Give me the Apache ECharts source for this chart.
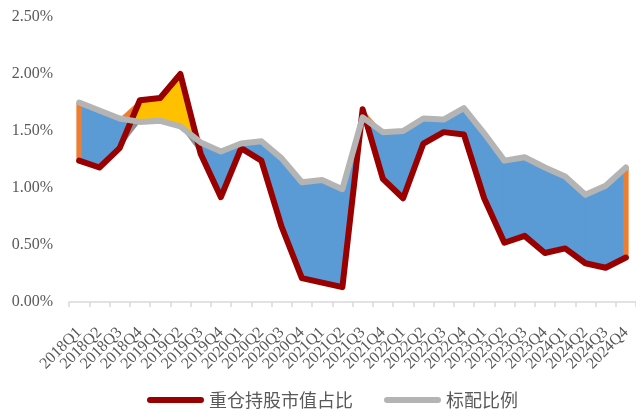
<!DOCTYPE html>
<html>
<head>
<meta charset="utf-8">
<script src="https://cdn.jsdelivr.net/npm/echarts@6/dist/echarts.min.js"></script>
<style>
  html, body { margin: 0; padding: 0; background: #fff; }
  #chart { width: 636px; height: 410px; }
</style>
</head>
<body>
<div id="chart"></div>
<script>
// Quarterly labels
const quarters = [
  '2018Q1','2018Q2','2018Q3','2018Q4',
  '2019Q1','2019Q2','2019Q3','2019Q4',
  '2020Q1','2020Q2','2020Q3','2020Q4',
  '2021Q1','2021Q2','2021Q3','2021Q4',
  '2022Q1','2022Q2','2022Q3','2022Q4',
  '2023Q1','2023Q2','2023Q3','2023Q4',
  '2024Q1','2024Q2','2024Q3','2024Q4'
];

// 重仓持股市值占比 (%)
const heldShare = [
  1.24, 1.18, 1.35, 1.77,
  1.79, 2.00, 1.30, 0.92,
  1.35, 1.24, 0.66, 0.21,
  0.17, 0.13, 1.69, 1.08,
  0.91, 1.39, 1.49, 1.47,
  0.91, 0.52, 0.58, 0.43,
  0.47, 0.34, 0.30, 0.39
];

// 标配比例 (%)
const benchmarkShare = [
  1.75, 1.68, 1.61, 1.58,
  1.59, 1.54, 1.40, 1.32,
  1.39, 1.41, 1.26, 1.05,
  1.07, 0.99, 1.62, 1.49,
  1.50, 1.61, 1.60, 1.70,
  1.48, 1.24, 1.27, 1.18,
  1.10, 0.94, 1.02, 1.18
];

// Y axis tick values (%)
const yTicks = [0, 0.5, 1.0, 1.5, 2.0, 2.5];

const C_BLUE = '#5B9BD5';
const C_ORANGE = '#ED7D31';
const C_YELLOW = '#FFC000';
const C_SHADE = '#8F8F8F';
const C_RED = '#990000';
const C_GREY = '#B4B4B4';
const C_TEXT = '#595959';

// one item per segment between consecutive quarters
const segments = heldShare.slice(0, -1).map((v, i) => [
  i, v, benchmarkShare[i], heldShare[i + 1], benchmarkShare[i + 1]
]);
const lastSeg = segments.length - 1;

function poly(points, color, edge) {
  return {
    type: 'polygon',
    shape: { points: points },
    style: { fill: color, stroke: color, lineWidth: edge, lineJoin: 'round' }
  };
}

// fill between the two lines, split where they cross
function renderGap(params, api) {
  const i = api.value(0);
  const r0 = api.value(1), g0 = api.value(2), r1 = api.value(3), g1 = api.value(4);
  const R0 = api.coord([i, r0]), G0 = api.coord([i, g0]);
  const R1 = api.coord([i + 1, r1]), G1 = api.coord([i + 1, g1]);
  const d0 = g0 - r0, d1 = g1 - r1;
  const children = [];
  if (d0 * d1 >= 0) {
    children.push(poly([G0, G1, R1, R0], (d0 + d1 >= 0) ? C_BLUE : C_YELLOW, 1.2));
  } else {
    const t = d0 / (d0 - d1);
    const X = [R0[0] + t * (R1[0] - R0[0]), R0[1] + t * (R1[1] - R0[1])];
    const top0 = d0 > 0 ? G0 : R0, bot0 = d0 > 0 ? R0 : G0;
    const top1 = d1 > 0 ? G1 : R1, bot1 = d1 > 0 ? R1 : G1;
    children.push(poly([top0, top1, X], C_ORANGE, 0.6));
    children.push(poly([bot0, bot1, X], C_SHADE, 0.6));
    children.push(poly([G0, X, R0], d0 > 0 ? C_BLUE : C_YELLOW, 1.2));
    children.push(poly([X, G1, R1], d1 > 0 ? C_BLUE : C_YELLOW, 1.2));
  }
  if (i === 0) {
    children.push({
      type: 'line',
      shape: { x1: R0[0], y1: R0[1], x2: G0[0], y2: G0[1] },
      style: { stroke: C_ORANGE, lineWidth: 5.5 }
    });
  }
  if (i === lastSeg) {
    children.push({
      type: 'line',
      shape: { x1: R1[0], y1: R1[1], x2: G1[0], y2: G1[1] },
      style: { stroke: C_ORANGE, lineWidth: 5.5 }
    });
  }
  return { type: 'group', children: children };
}

const chart = echarts.init(document.getElementById('chart'), null, { renderer: 'canvas' });

chart.setOption({
  animation: false,
  backgroundColor: '#ffffff',
  grid: { left: 69, top: 17, width: 571, height: 285, containLabel: false },
  legend: {
    data: ['重仓持股市值占比', '标配比例'],
    left: 142,
    top: 386,
    icon: 'path://M3,0 L54,0 A3,3 0 0 1 54,6 L3,6 A3,3 0 0 1 3,0 Z',
    itemWidth: 57,
    itemHeight: 6,
    itemGap: 31,
    textStyle: { fontFamily: 'Noto Sans CJK SC', fontSize: 18, color: C_TEXT }
  },
  xAxis: {
    type: 'category',
    data: quarters,
    boundaryGap: true,
    axisLine: { show: true, lineStyle: { color: '#D9D9D9', width: 1.5 } },
    axisTick: { show: true, interval: 0, length: 5, lineStyle: { color: '#D9D9D9', width: 1.5 } },
    axisLabel: {
      interval: 0,
      rotate: 45,
      margin: 28,
      fontFamily: 'Liberation Serif',
      fontSize: 16,
      color: C_TEXT
    },
    splitLine: { show: false }
  },
  yAxis: {
    type: 'value',
    min: yTicks[0],
    max: yTicks[yTicks.length - 1],
    interval: yTicks[1] - yTicks[0],
    axisLine: { show: false },
    axisTick: { show: false },
    splitLine: { show: false },
    axisLabel: {
      margin: 16,
      fontFamily: 'Liberation Serif',
      fontSize: 16,
      color: C_TEXT,
      formatter: v => v.toFixed(2) + '%'
    }
  },
  series: [
    {
      type: 'custom',
      renderItem: renderGap,
      data: segments,
      encode: { x: 0, y: [1, 2, 3, 4] },
      z: 1,
      silent: true
    },
    {
      name: '重仓持股市值占比',
      type: 'line',
      data: heldShare,
      symbol: 'none',
      color: C_RED,
      lineStyle: { color: C_RED, width: 6, cap: 'round', join: 'round' },
      z: 3
    },
    {
      name: '标配比例',
      type: 'line',
      data: benchmarkShare,
      symbol: 'none',
      color: C_GREY,
      lineStyle: { color: C_GREY, width: 6, cap: 'round', join: 'round' },
      z: 4
    }
  ]
});
</script>
</body>
</html>
